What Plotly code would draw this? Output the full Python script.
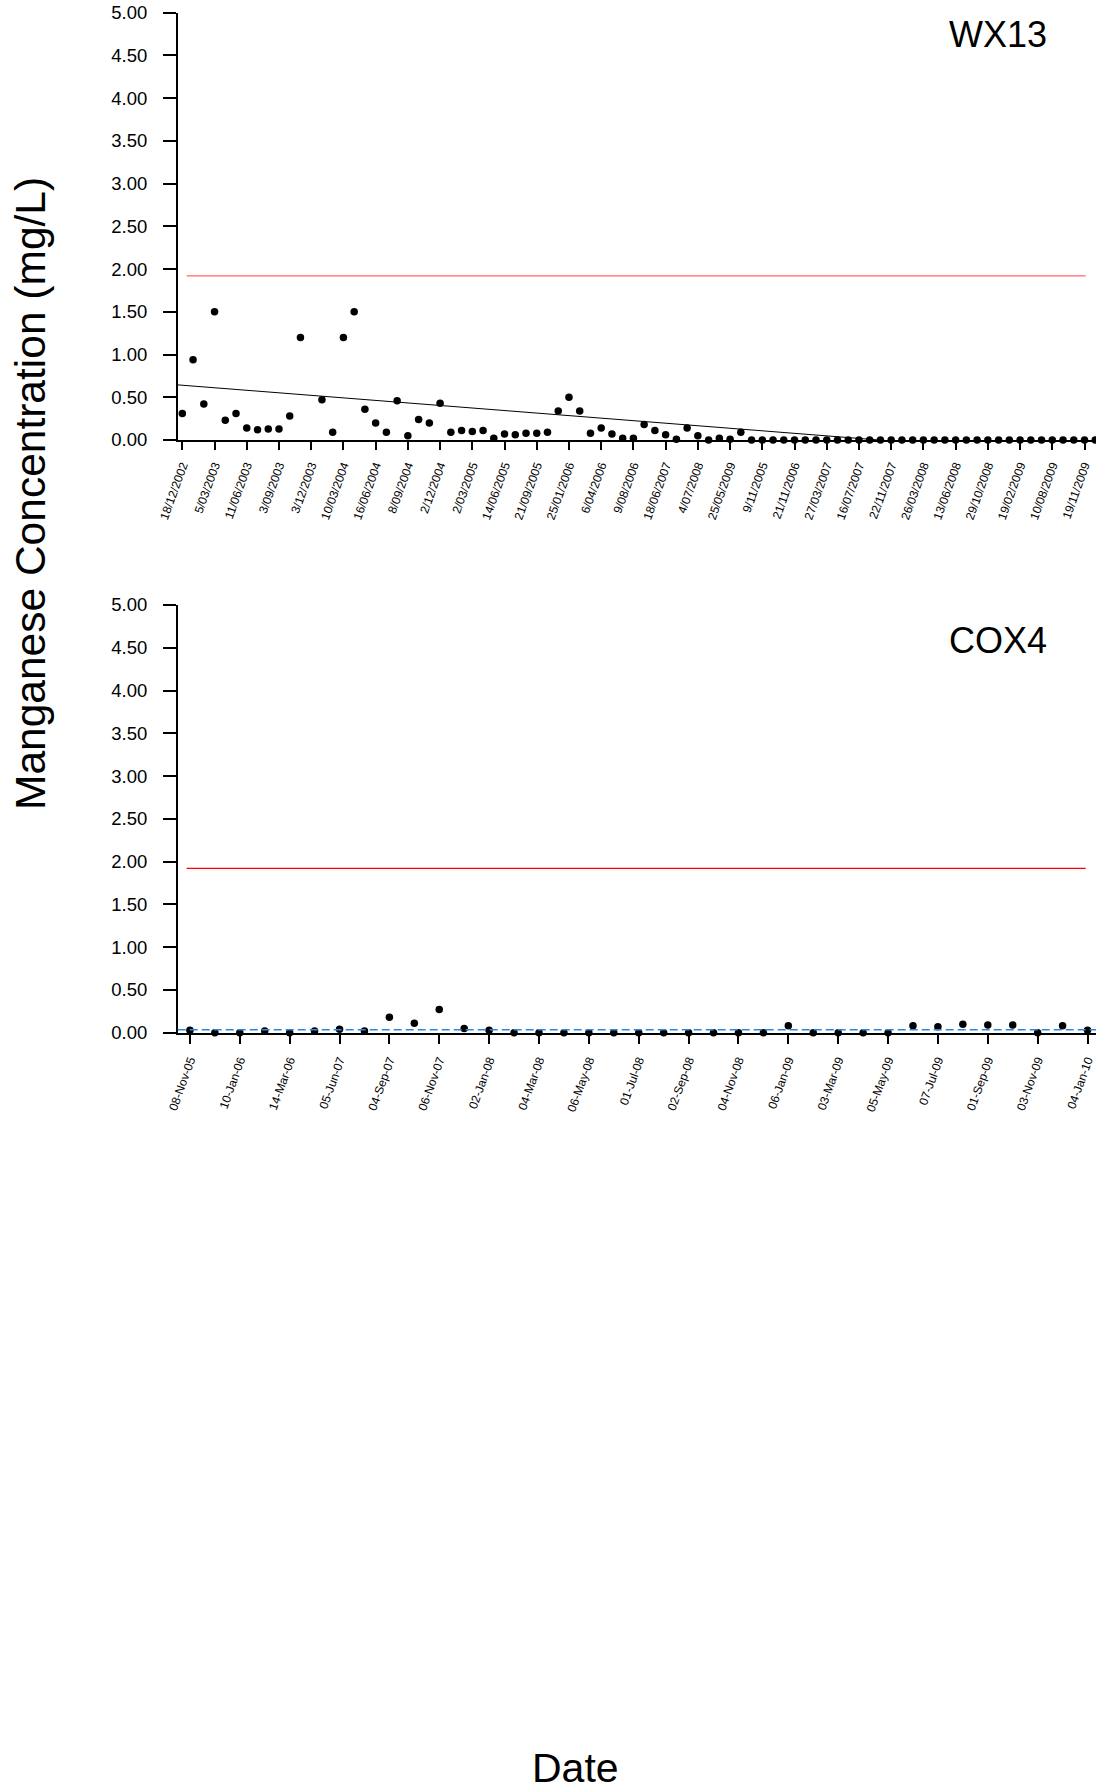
import numpy as np
import plotly.graph_objects as go

# ---------------- data ----------------
wx13_labels = ["18/12/2002", "5/03/2003", "11/06/2003", "3/09/2003", "3/12/2003",
               "10/03/2004", "16/06/2004", "8/09/2004", "2/12/2004", "2/03/2005",
               "14/06/2005", "21/09/2005", "25/01/2006", "6/04/2006", "9/08/2006",
               "18/06/2007", "4/07/2008", "25/05/2009", "9/11/2005", "21/11/2006",
               "27/03/2007", "16/07/2007", "22/11/2007", "26/03/2008", "13/06/2008",
               "29/10/2008", "19/02/2009", "10/08/2009", "19/11/2009"]
wx13_values = [0.31, 0.94, 0.42, 1.50, 0.23, 0.31, 0.14, 0.12, 0.13, 0.13,
               0.28, 1.20, None, 0.47, 0.09, 1.20, 1.50, 0.36, 0.20, 0.09,
               0.46, 0.05, 0.24, 0.20, 0.43, 0.09, 0.11, 0.10, 0.11, 0.02,
               0.07, 0.06, 0.08, 0.08, 0.09, 0.34, 0.50, 0.34, 0.08, 0.14,
               0.07, 0.02, 0.02, 0.18, 0.11, 0.06, 0.01, 0.14, 0.05, 0.00,
               0.02, 0.01, 0.09, 0.00, 0.00, 0.00, 0.00, 0.00, 0.00, 0.00,
               0.00, 0.00, 0.00, 0.00, 0.00, 0.00, 0.00, 0.00, 0.00, 0.00,
               0.00, 0.00, 0.00, 0.00, 0.00, 0.00, 0.00, 0.00, 0.00, 0.00,
               0.00, 0.00, 0.00, 0.00, 0.00, 0.00]
wx13_trend_intercept = 0.641   # trend value at first sample
wx13_trend_slope = -0.00988    # per sample

cox4_labels = ["08-Nov-05", "10-Jan-06", "14-Mar-06", "05-Jun-07", "04-Sep-07",
               "06-Nov-07", "02-Jan-08", "04-Mar-08", "06-May-08", "01-Jul-08",
               "02-Sep-08", "04-Nov-08", "06-Jan-09", "03-Mar-09", "05-May-09",
               "07-Jul-09", "01-Sep-09", "03-Nov-09", "04-Jan-10"]
cox4_values = [0.03, 0.00, 0.00, 0.02, 0.00, 0.02, 0.04, 0.02, 0.18, 0.11,
               0.27, 0.05, 0.03, 0.00, 0.00, 0.00, 0.00, 0.00, 0.00, 0.00,
               0.00, 0.00, 0.00, 0.00, 0.08, 0.00, 0.00, 0.00, 0.00, 0.08,
               0.07, 0.10, 0.09, 0.09, 0.00, 0.08, 0.03]

guideline_value = 1.92     # red guideline (mg/L)
cox4_blue_value = 0.035    # blue dashed reference (mg/L)

y_ticks = [0.0, 0.5, 1.0, 1.5, 2.0, 2.5, 3.0, 3.5, 4.0, 4.5, 5.0]

# ---------------- figure ----------------
FONT = "Liberation Sans, Arial, Helvetica, sans-serif"
W, H = 1096, 1792

x_wx = np.arange(len(wx13_values))
x_cx = np.arange(len(cox4_values))

fig = go.Figure()

fig.add_trace(go.Scatter(
    x=x_wx, y=wx13_values, mode="markers",
    marker=dict(color="black", size=7.5),
    cliponaxis=False, xaxis="x", yaxis="y", showlegend=False))

x_rng_top = [-0.43, 85.07]
trend_x = np.array(x_rng_top)
trend_y = wx13_trend_intercept + wx13_trend_slope * trend_x
fig.add_trace(go.Scatter(
    x=trend_x, y=trend_y, mode="lines",
    line=dict(color="black", width=1),
    xaxis="x", yaxis="y", showlegend=False))

fig.add_trace(go.Scatter(
    x=x_cx, y=cox4_values, mode="markers",
    marker=dict(color="black", size=7.5),
    cliponaxis=False, xaxis="x2", yaxis="y2", showlegend=False))

xdom = [177.7 / W, 1.0]
top_dom = [1 - 440 / H, 1 - 12.7 / H]
bot_dom = [1 - 1032.7 / H, 1 - 605 / H]

ax_common = dict(showline=True, linecolor="black", linewidth=1.5,
                 ticks="outside", tickcolor="black", tickwidth=1.5,
                 showgrid=False, zeroline=False, automargin=False,
                 ticklabeloverflow="allow")
xfont = dict(family=FONT, size=12, color="black")
yfont = dict(family=FONT, size=18.5, color="black")

fig.update_layout(
    template="none",
    width=W, height=H,
    margin=dict(l=0, r=0, t=0, b=0, pad=0, autoexpand=False),
    paper_bgcolor="white", plot_bgcolor="white",
    font=dict(family=FONT, color="black"),
    xaxis=dict(domain=xdom, range=x_rng_top, anchor="y",
               tickmode="array", tickvals=list(range(0, len(wx13_values), 3)),
               ticktext=wx13_labels, tickangle=-70, ticklen=8,
               ticklabelstandoff=4, tickfont=xfont, **ax_common),
    yaxis=dict(domain=top_dom, range=[0, 5], anchor="x",
               tickmode="array", tickvals=y_ticks,
               ticktext=[f"{v:.2f}" for v in y_ticks], ticklen=13,
               ticklabelstandoff=12, tickfont=yfont, **ax_common),
    xaxis2=dict(domain=xdom, range=[-0.49, 36.34], anchor="y2",
                tickmode="array", tickvals=list(range(0, len(cox4_values), 2)),
                ticktext=cox4_labels, tickangle=-70, ticklen=10,
                ticklabelstandoff=4, tickfont=xfont, **ax_common),
    yaxis2=dict(domain=bot_dom, range=[0, 5], anchor="x2",
                tickmode="array", tickvals=y_ticks,
                ticktext=[f"{v:.2f}" for v in y_ticks], ticklen=13,
                ticklabelstandoff=12, tickfont=yfont, **ax_common),
)

# guideline shapes
fig.add_shape(type="line", xref="x domain", yref="y",
              x0=0.0098, x1=0.9888, y0=guideline_value, y1=guideline_value,
              line=dict(color="#ff6a6a", width=1.3))
fig.add_shape(type="line", xref="x2 domain", yref="y2",
              x0=0.0098, x1=0.9888, y0=guideline_value, y1=guideline_value,
              line=dict(color="#ff0000", width=1.3))
fig.add_shape(type="line", xref="x2 domain", yref="y2",
              x0=0.0, x1=1.0, y0=cox4_blue_value, y1=cox4_blue_value,
              line=dict(color="#2b86e8", width=1.5, dash="8px,4px"))

# text annotations
fig.add_annotation(text="WX13", xref="paper", yref="paper",
                   x=998 / W, y=1 - 34 / H, showarrow=False,
                   font=dict(family=FONT, size=36, color="black"),
                   xanchor="center", yanchor="middle")
fig.add_annotation(text="COX4", xref="paper", yref="paper",
                   x=998 / W, y=1 - 641 / H, showarrow=False,
                   font=dict(family=FONT, size=36, color="black"),
                   xanchor="center", yanchor="middle")
fig.add_annotation(text="Manganese Concentration (mg/L)", xref="paper", yref="paper",
                   x=31 / W, y=1 - 494 / H, showarrow=False, textangle=-90,
                   font=dict(family=FONT, size=42.5, color="black"),
                   xanchor="center", yanchor="middle")
fig.add_annotation(text="Date", xref="paper", yref="paper",
                   x=575 / W, y=0.0, showarrow=False,
                   font=dict(family=FONT, size=41, color="black"),
                   xanchor="center", yanchor="bottom", borderpad=0)

fig.write_html("out.html", config={"displayModeBar": False})
